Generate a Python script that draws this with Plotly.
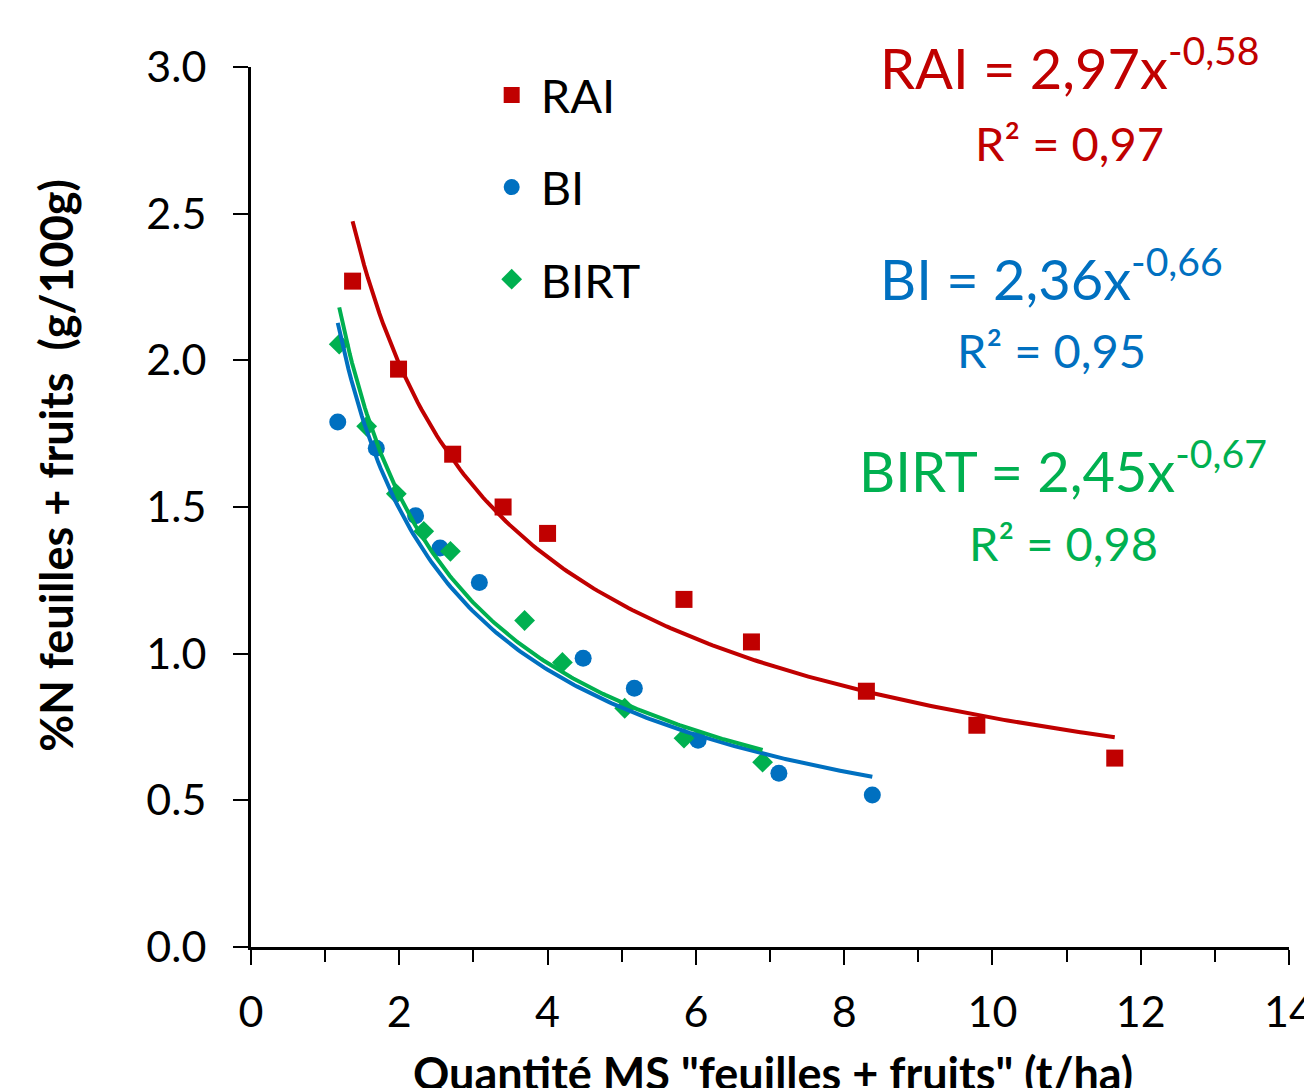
import numpy as np
import plotly.graph_objects as go

# ---- data ----
rai_x = [1.37, 1.99, 2.72, 3.40, 4.00, 5.84, 6.75, 8.30, 9.79, 11.65]
rai_y = [2.27, 1.97, 1.68, 1.50, 1.41, 1.185, 1.04, 0.872, 0.756, 0.644]

bi_x = [1.17, 1.69, 2.22, 2.55, 3.08, 4.48, 5.17, 6.03, 7.12, 8.38]
bi_y = [1.79, 1.70, 1.47, 1.36, 1.243, 0.984, 0.882, 0.705, 0.592, 0.518]

birt_x = [1.19, 1.56, 1.96, 2.33, 2.69, 3.69, 4.20, 5.04, 5.84, 6.90]
birt_y = [2.055, 1.775, 1.545, 1.417, 1.349, 1.113, 0.970, 0.814, 0.712, 0.630]

# power-law trendline coefficients (y = a * x^b), as printed on the chart
fit_a = {"RAI": 2.97, "BI": 2.36, "BIRT": 2.45}
fit_b = {"RAI": -0.58, "BI": -0.66, "BIRT": -0.67}
r2 = {"RAI": "0,97", "BI": "0,95", "BIRT": "0,98"}
eq_text = {"RAI": ("2,97", "-0,58"), "BI": ("2,36", "-0,66"), "BIRT": ("2,45", "-0,67")}

x_ticks = [0, 2, 4, 6, 8, 10, 12, 14]
y_ticks = [0.0, 0.5, 1.0, 1.5, 2.0, 2.5, 3.0]

x_title = 'Quantité MS "feuilles + fruits" (t/ha)'
y_title = "%N feuilles + fruits  (g/100g)"

RED, BLUE, GREEN = "#C00000", "#0070C0", "#00B050"
FONT = "Lato, 'Open Sans', sans-serif"

series = [
    ("RAI", rai_x, rai_y, RED, "square", 17),
    ("BI", bi_x, bi_y, BLUE, "circle", 17),
    ("BIRT", birt_x, birt_y, GREEN, "diamond", 16),
]

fig = go.Figure()

for name, xs, ys, col, sym, sz in series:
    fig.add_trace(go.Scatter(
        x=xs, y=ys, mode="markers", name=name, legendgroup=name,
        marker=dict(symbol=sym, size=sz, color=col, line=dict(width=0)),
    ))

for name, xs, ys, col, sym, sz in series:
    xf = np.linspace(min(xs), max(xs), 200)
    yf = fit_a[name] * xf ** fit_b[name]
    fig.add_trace(go.Scatter(
        x=xf, y=yf, mode="lines", showlegend=False, hoverinfo="skip",
        line=dict(color=col, width=4),
    ))

# equation annotations (paper coords)
eq_pos = {"RAI": (0.789, 1.004, 0.914), "BI": (0.771, 0.7645, 0.678), "BIRT": (0.7825, 0.5455, 0.459)}
for name, xs, ys, col, sym, sz in series:
    px, py_eq, py_r2 = eq_pos[name]
    a_s, b_s = eq_text[name]
    fig.add_annotation(
        xref="paper", yref="paper", x=px, y=py_eq, xanchor="center", yanchor="middle",
        text=f"{name} = {a_s}x<sup>{b_s}</sup>", showarrow=False,
        font=dict(family=FONT, size=56, color=col),
    )
    fig.add_annotation(
        xref="paper", yref="paper", x=px, y=py_r2, xanchor="center", yanchor="middle",
        text=f"R² = {r2[name]}", showarrow=False,
        font=dict(family=FONT, size=47, color=col),
    )

# axis titles
fig.add_annotation(
    xref="paper", yref="paper", x=0.5025, y=-0.1435, xanchor="center", yanchor="middle",
    text=f"<b>{x_title}</b>", showarrow=False,
    font=dict(family=FONT, size=45, color="black"),
)
fig.add_annotation(
    xref="paper", yref="paper", x=-0.1882, y=0.5477, xanchor="center", yanchor="middle",
    text=f"<b>{y_title}</b>", showarrow=False, textangle=-90,
    font=dict(family=FONT, size=45, color="black"),
)

fig.update_layout(
    width=1312, height=1088,
    margin=dict(l=242.5, r=30.5, t=59, b=149),
    paper_bgcolor="white", plot_bgcolor="white",
    font=dict(family=FONT, size=42, color="black"),
    showlegend=True,
    legend=dict(
        x=0.2232, y=1.0103, xanchor="left", yanchor="top",
        font=dict(family=FONT, size=47, color="black"),
        bgcolor="rgba(0,0,0,0)", traceorder="grouped", tracegroupgap=28,
        itemsizing="trace", itemwidth=48,
    ),
    xaxis=dict(
        range=[0, 14], tickvals=x_ticks, showgrid=False, zeroline=False,
        showline=True, linecolor="black", linewidth=3, automargin=False,
        ticks="outside", ticklen=15, tickwidth=2, tickcolor="black",
        minor=dict(dtick=1, ticks="outside", ticklen=12, tickwidth=2, tickcolor="black", showgrid=False),
        tickfont=dict(family=FONT, size=43), ticklabelstandoff=10,
        ticklabeloverflow="allow",
    ),
    yaxis=dict(
        range=[0, 3], tickvals=y_ticks, tickformat=".1f", showgrid=False, zeroline=False,
        showline=True, linecolor="black", linewidth=3, automargin=False,
        ticks="outside", ticklen=15, tickwidth=2, tickcolor="black",
        tickfont=dict(family=FONT, size=43), ticklabelstandoff=18,
        ticklabeloverflow="allow",
    ),
)

fig.write_html("out.html")
